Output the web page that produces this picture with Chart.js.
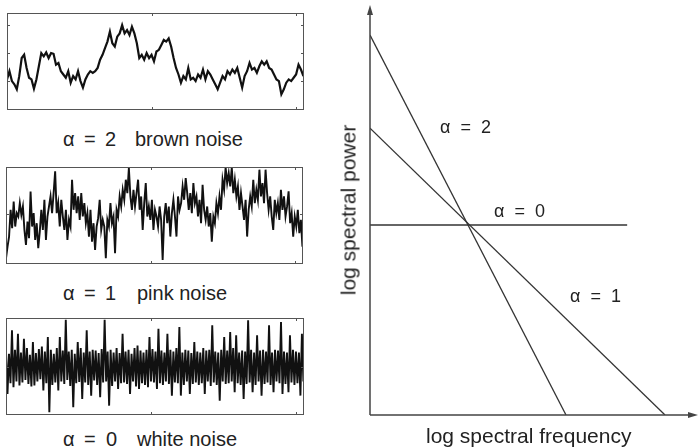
<!DOCTYPE html>
<html><head><meta charset="utf-8">
<script src="https://cdn.jsdelivr.net/npm/chart.js@4.4.1/dist/chart.umd.min.js"></script>
<style>
html,body{margin:0;padding:0;background:#fff;width:698px;height:447px;overflow:hidden;position:relative;font-family:"Liberation Sans",Arial,sans-serif;color:#222}
canvas{position:absolute}
.t{position:absolute;white-space:pre;line-height:1}
.s{font-size:20px}
.a{font-size:18px}
.ax{font-size:21px}
</style></head><body>
<canvas id="cBrown" style="left:5px;top:11px" width="301" height="101"></canvas>
<canvas id="cPink" style="left:4px;top:165px" width="301" height="101"></canvas>
<canvas id="cWhite" style="left:4px;top:316px" width="302" height="101"></canvas>
<canvas id="cSpec" style="left:340px;top:0px" width="358" height="447"></canvas>

<div class="t s" style="left:63px;top:129px">α</div><div class="t s" style="left:84px;top:129px">=</div><div class="t s" style="left:105px;top:129px">2</div><div class="t s" style="left:135px;top:129px">brown noise</div>
<div class="t s" style="left:63px;top:283px">α</div><div class="t s" style="left:84px;top:283px">=</div><div class="t s" style="left:105px;top:283px">1</div><div class="t s" style="left:137px;top:283px">pink noise</div>
<div class="t s" style="left:63px;top:429px">α</div><div class="t s" style="left:84px;top:429px">=</div><div class="t s" style="left:106px;top:429px">0</div><div class="t s" style="left:137px;top:429px">white noise</div>

<div class="t a" style="left:440px;top:118px">α  =  2</div>
<div class="t a" style="left:494px;top:202px">α  =  0</div>
<div class="t a" style="left:570px;top:287px">α  =  1</div>
<div class="t ax" style="left:426px;top:425px">log spectral frequency</div>
<div class="t ax" style="left:348px;top:210px;transform:translate(-50%,-50%) rotate(-90deg)">log spectral power</div>

<script>
// ---- data (arbitrary amplitude units) ----
const brownValues = [5,30,0,-10,-25,15,70,80,40,10,5,-23,5,45,85,75,87,70,85,83,50,55,30,20,10,30,-5,15,5,30,0,-20,5,20,30,25,30,40,65,80,100,120,150,115,105,135,145,170,145,155,140,165,145,115,70,80,65,85,70,80,60,90,95,110,125,120,130,105,70,40,20,-5,15,5,40,5,10,0,20,10,35,5,30,20,5,-10,-25,-5,15,5,30,20,35,25,40,10,-20,15,30,55,35,40,25,45,60,50,60,40,35,20,5,0,-40,-25,-5,5,0,10,20,50,35,15];
const pinkValues = [-132,-97,-67, 13,-42,38,-37,3, -7,33,-2,23, -47,-92,-22,-72, 68,-37,3, -77,-27,-102,-52, 13,-47,43,-77,-7, 23,53,3,63,128, 3,33,-37,43,-7, -47,13,-77,-17,-37, 103,13,63,3, 53,-17,63,-7,33,-27, 3,-67,13,-82,-27,-107,-37, -12,43,-47,-17,-37,-132,-17, -37,33,-27,-7, -117,13,-7,53,23, 73,43,103,63,138, 53,13,73,23,63,103, 13,53,-47,33,93,-7, 23,-17,43,-47,13,-7, -37,23,-17,-137, -7,33,-27,23,-67,3, 43,-7,-67,53,13,33, 83,43,108,63, 13,63,3,93,33,53, -7,43,-27,88,13,-17, 23,-37,3,-82,-7,-27, 33,3,53,13, 103,73,140,93,123,83, 140,63,103,53, 83,13,63,23, -17,43,-67,13, 53,23,103,33,73,43, 133,53,93,33,133,63, 13,53,-7,-47,43,3, 33,-17,73,13,53,-7, 23,68,-27,3,-67,-7, -37,13,-57,-17,-97];
const whiteValues = [45,-82,38,-50,108,-62,50,-45,98,-57, 42,-48,83,-40,55,-52,35,-60,73,-57, 40,-45,52,-38,60,-72,45,-50,88,-137, 50,-55,38,-48,55,-72,88,-45,48,-52, 140,-40,45,-58,50,-122,38,-50,73,-46, 55,-97,42,-48,108,-55,45,-87,50,-42, 48,-55,40,-92,52,-48,140,-45,45,-117, 50,-58,42,-45,55,-67,40,-50,98,-48, 45,-52,50,-82,38,-45,55,-60,63,-67, 48,-50,42,-55,50,-62,88,-45,52,-48, 45,-67,113,-50,48,-55,42,-45,98,-52, 50,-87,45,-48,55,-50,118,-87,42,-55, 50,-45,48,-82,40,-52,73,-48,45,-55, 42,-50,55,-82,48,-45,50,-58,123,-48, 45,-55,42,-102,50,-45,88,-52,48,-50, 103,-45,55,-77,93,-50,42,-55,48,-97, 45,-52,138,-48,50,-77,42,-55,93,-45, 48,-87,50,-52,45,-48,123,-55,42,-77, 50,-45,48,-50,133,-82,45,-52,42,-77, 93,-48,50,-55,45,-50,42,-87,98,-45];
const sampleSpan = 1024;            // samples along the time axis
const timeTicks = [500, 1000];
const brownRange = [-88, 207], brownTicks = [0, 85, 170];
const pinkRange = [-149, 141], pinkTicks = [0];
const whiteRange = [-145, 145], whiteTicks = [0];

// spectrum lines: log frequency vs log power
const alpha2Line = [{x:0, y:1.96}, {x:2.02, y:-1.96}];
const alpha1Line = [{x:0, y:1.00}, {x:3.04, y:-1.96}];
const alpha0Line = [{x:0, y:0.00}, {x:2.65, y:0.00}];
const logFreqRange = [0, 3.38];
const logPowRange = [-1.96, 2.27];

Chart.defaults.font.family = '"Liberation Sans", Arial, sans-serif';

function toPoints(vals){ return vals.map((v,i)=>({x: i*sampleSpan/(vals.length-1), y: v})); }

const boxPlugin = {
  id:'box',
  afterDraw(chart, args, opts){
    const {ctx, chartArea:a, scales} = chart;
    ctx.save();
    ctx.strokeStyle = '#555'; ctx.lineWidth = 1;
    ctx.strokeRect(a.left+0.5, a.top+0.5, a.right-a.left-1, a.bottom-a.top-1);
    ctx.beginPath();
    (opts.xt||[]).forEach(v=>{
      const px = Math.round(scales.x.getPixelForValue(v))+0.5;
      ctx.moveTo(px, a.top); ctx.lineTo(px, a.top+3);
      ctx.moveTo(px, a.bottom); ctx.lineTo(px, a.bottom-3);
    });
    (opts.yt||[]).forEach(v=>{
      const py = Math.round(scales.y.getPixelForValue(v))+0.5;
      ctx.moveTo(a.left, py); ctx.lineTo(a.left+3, py);
      ctx.moveTo(a.right, py); ctx.lineTo(a.right-3, py);
    });
    ctx.stroke();
    ctx.restore();
  }
};

function noiseChart(id, vals, range, yt, lw){
  new Chart(document.getElementById(id), {
    type:'line',
    data:{datasets:[{data:toPoints(vals), borderColor:'#111', borderWidth:lw, pointRadius:0, tension:0, borderJoinStyle:'miter'}]},
    options:{
      responsive:false, animation:false, devicePixelRatio:1,
      layout:{padding:2},
      parsing:false,
      scales:{
        x:{type:'linear', min:0, max:1026, display:false},
        y:{type:'linear', min:range[0], max:range[1], display:false}
      },
      plugins:{legend:{display:false}, tooltip:{enabled:false}, box:{xt:timeTicks, yt:yt}}
    },
    plugins:[boxPlugin]
  });
}
noiseChart('cBrown', brownValues, brownRange, brownTicks, 2.2);
noiseChart('cPink', pinkValues, pinkRange, pinkTicks, 1.9);
noiseChart('cWhite', whiteValues, whiteRange, whiteTicks, 1.9);

const axesPlugin = {
  id:'axesArrows',
  afterDatasetsDraw(chart){
    const {ctx, scales:{x, y}} = chart;
    const x0 = x.getPixelForValue(logFreqRange[0]);
    const y0 = y.getPixelForValue(logPowRange[0]);
    const yTop = y.getPixelForValue(logPowRange[1]);
    const xEnd = x.getPixelForValue(logFreqRange[1]);
    ctx.save();
    ctx.strokeStyle = '#444'; ctx.fillStyle = '#444'; ctx.lineWidth = 1.5;
    ctx.beginPath();
    ctx.moveTo(x0, y0); ctx.lineTo(x0, yTop+6);
    ctx.moveTo(x0, y0); ctx.lineTo(xEnd-6, y0);
    ctx.stroke();
    ctx.beginPath();
    ctx.moveTo(x0, yTop); ctx.lineTo(x0-3, yTop+10); ctx.lineTo(x0+3, yTop+10); ctx.closePath(); ctx.fill();
    ctx.beginPath();
    ctx.moveTo(xEnd, y0); ctx.lineTo(xEnd-10, y0-3); ctx.lineTo(xEnd-10, y0+3); ctx.closePath(); ctx.fill();
    ctx.restore();
  }
};

new Chart(document.getElementById('cSpec'), {
  type:'scatter',
  data:{datasets:[
    {data:alpha2Line, showLine:true, borderColor:'#333', borderWidth:1.3, pointRadius:0},
    {data:alpha1Line, showLine:true, borderColor:'#333', borderWidth:1.3, pointRadius:0},
    {data:alpha0Line, showLine:true, borderColor:'#333', borderWidth:1.3, pointRadius:0}
  ]},
  options:{
    responsive:false, animation:false, devicePixelRatio:1,
    layout:{padding:{left:30, right:0, top:5, bottom:32}},
    scales:{
      x:{type:'linear', min:logFreqRange[0], max:logFreqRange[1], display:false},
      y:{type:'linear', min:logPowRange[0], max:logPowRange[1], display:false}
    },
    plugins:{legend:{display:false}, tooltip:{enabled:false}}
  },
  plugins:[axesPlugin]
});
</script>
</body></html>
